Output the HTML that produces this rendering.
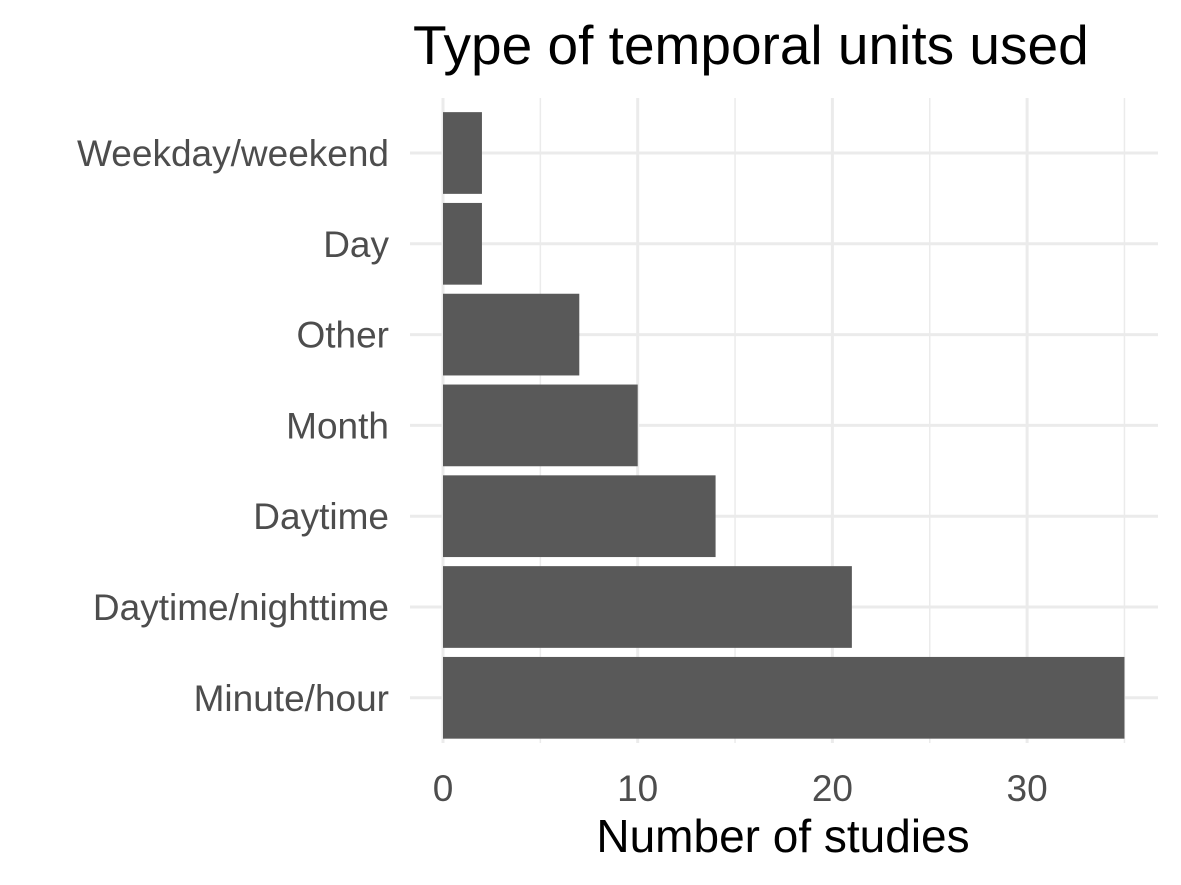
<!DOCTYPE html>
<html><head><meta charset="utf-8"><style>
body{margin:0;background:#fff;}
svg{display:block;font-family:"Liberation Sans",Arial,sans-serif;}
</style></head><body>
<svg id="chart" width="1181" height="885" viewBox="0 0 1181 885">
<rect width="1181" height="885" fill="#fff"/>
<text x="413" y="64" font-size="55" fill="#000">Type of temporal units used</text>
<g id="grid"></g><g id="bars"></g><g id="ylabels"></g><g id="xlabels"></g>
<text x="783" y="852" font-size="46" text-anchor="middle" fill="#000">Number of studies</text>
</svg>
<script>
const categories=["Weekday/weekend","Day","Other","Month","Daytime","Daytime/nighttime","Minute/hour"];
const values=[2,2,7,10,14,21,35];
const xTicks=[0,10,20,30];
const xMinorTicks=[5,15,25,35];
const ns="http://www.w3.org/2000/svg";
const x0=443, pxPerUnit=19.47, yTop=98, band=90.8, panelL=410, panelR=1158, panelB=743;
const xs=v=>x0+v*pxPerUnit;
const yc=i=>yTop+band*(i+0.5)+9.6;
function mk(tag,attrs,parent){const e=document.createElementNS(ns,tag);for(const k in attrs)e.setAttribute(k,attrs[k]);document.getElementById(parent).appendChild(e);return e;}
xMinorTicks.forEach(v=>{const l=mk('line',{x1:xs(v),x2:xs(v),y1:yTop,y2:panelB,stroke:'#ebebeb','stroke-width':1.5},'grid');

});
xTicks.forEach(v=>{const l=mk('line',{x1:xs(v),x2:xs(v),y1:yTop,y2:panelB,stroke:'#ebebeb','stroke-width':3},'grid');


const t=mk('text',{x:xs(v),y:801,'font-size':37,'text-anchor':'middle',fill:'#4d4d4d'},'xlabels');t.textContent=v;

});
categories.forEach((c,i)=>{const y=yc(i);
const g=mk('line',{x1:panelL,x2:panelR,y1:y,y2:y,stroke:'#ebebeb','stroke-width':3},'grid');


const b=mk('rect',{x:xs(0),y:y-band*0.45,width:xs(values[i])-xs(0),height:band*0.9,fill:'#595959'},'bars');


const t=mk('text',{x:389,y:y+13,'font-size':37,'text-anchor':'end',fill:'#4d4d4d'},'ylabels');t.textContent=c;

});
</script>
</body></html>
